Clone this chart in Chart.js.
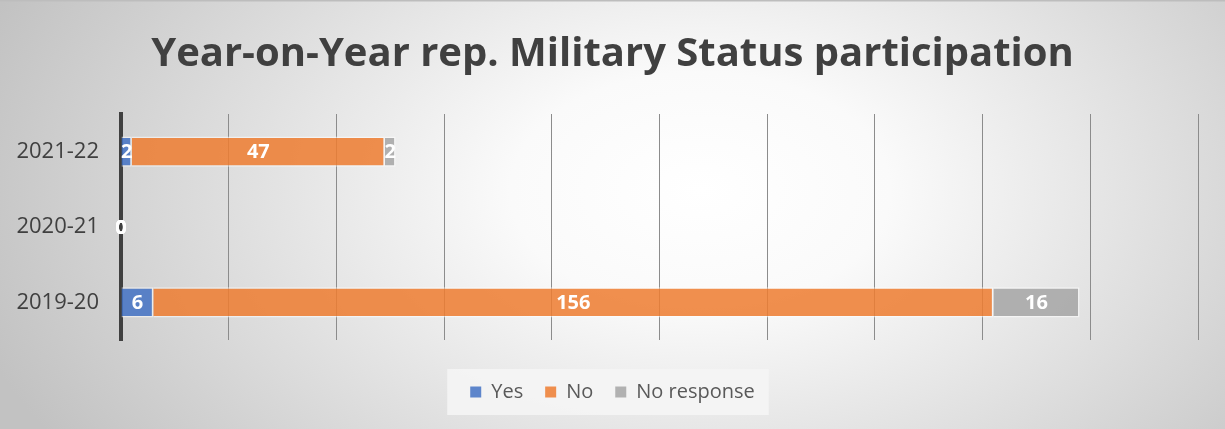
<!DOCTYPE html>
<html>
<head>
<meta charset="utf-8">
<script src="https://cdn.jsdelivr.net/npm/chart.js@4.4.0/dist/chart.umd.min.js"></script>
<style>
  html, body { margin: 0; padding: 0; background: #fff; }
  #wrap { width: 1225px; height: 429px; }
</style>
</head>
<body>
<div id="wrap"><canvas id="myChart" width="1225" height="429"></canvas></div>
<script>
// Datos
const categorias = ['2021-22', '2020-21', '2019-20'];
const si = [2, 0, 6];
const no = [47, 0, 156];
const sinRespuesta = [2, 0, 16];
const titulo = 'Year-on-Year rep. Military Status participation';

// Fondo con degradado + caja de la leyenda
const fondo = {
    id: 'fondo',
    beforeDraw(chart) {
        const ctx = chart.ctx;
        const w = chart.width, h = chart.height;
        ctx.save();
        ctx.translate(700, 190);
        ctx.scale(1, 0.62);
        const g = ctx.createRadialGradient(0, 0, 0, 0, 0, 760);
        g.addColorStop(0, '#ffffff');
        g.addColorStop(0.25, '#fafafa');
        g.addColorStop(1, '#c2c2c2');
        ctx.fillStyle = g;
        ctx.fillRect(-700, -190 / 0.62, w, h / 0.62 + 10);
        ctx.restore();

        // borde superior
        ctx.save();
        ctx.fillStyle = '#bdbdbd';
        ctx.fillRect(0, 0, w, 1.5);
        ctx.restore();

        // caja de la leyenda
        const cajas = chart.legend && chart.legend.legendHitBoxes;
        if (!cajas || !cajas.length) return;
        let izq = Infinity, der = -Infinity, arriba = Infinity, abajo = -Infinity;
        cajas.forEach(c => {
            izq = Math.min(izq, c.left);
            der = Math.max(der, c.left + c.width);
            arriba = Math.min(arriba, c.top);
            abajo = Math.max(abajo, c.top + c.height);
        });
        ctx.save();
        ctx.fillStyle = 'rgba(244,244,244,0.92)';
        ctx.fillRect(izq - 23, arriba - 13, der - izq + 37, abajo - arriba + 26);
        ctx.restore();
    }
};

// Etiquetas de datos dentro de las barras
const etiquetas = {
    id: 'etiquetas',
    afterDatasetsDraw(chart) {
        const ctx = chart.ctx;
        ctx.save();
        ctx.font = 'bold 20px "Open Sans"';
        ctx.fillStyle = '#ffffff';
        ctx.textAlign = 'center';
        ctx.textBaseline = 'middle';
        chart.data.datasets.forEach((ds, i) => {
            const meta = chart.getDatasetMeta(i);
            meta.data.forEach((el, j) => {
                const v = ds.data[j];
                const x = (el.x + el.base) / 2;
                ctx.fillText(String(v), x, el.y + 1);
            });
        });
        ctx.restore();
    }
};

const ctx = document.getElementById('myChart').getContext('2d');
new Chart(ctx, {
    type: 'bar',
    data: {
        labels: categorias,
        datasets: [
            {
                label: 'Yes',
                data: si,
                backgroundColor: 'rgba(68,114,196,0.86)',
                borderColor: 'rgba(255,255,255,0.55)',
                borderWidth: 1.5
            },
            {
                label: 'No',
                data: no,
                backgroundColor: 'rgba(237,125,49,0.86)',
                borderColor: 'rgba(255,255,255,0.55)',
                borderWidth: 1.5
            },
            {
                label: 'No response',
                data: sinRespuesta,
                backgroundColor: 'rgba(165,165,165,0.86)',
                borderColor: 'rgba(255,255,255,0.55)',
                borderWidth: 1.5
            }
        ]
    },
    options: {
        indexAxis: 'y',
        responsive: false,
        animation: false,
        devicePixelRatio: 1,
        layout: { padding: { left: 0, right: 0, top: 0, bottom: 17 } },
        datasets: { bar: { categoryPercentage: 1, barPercentage: 0.4 } },
        scales: {
            x: {
                stacked: true,
                min: 0,
                max: 200,
                afterFit(scale) { scale.height = 20; },
                ticks: { display: false, stepSize: 20 },
                grid: { color: '#8c8c8c', lineWidth: 1, drawTicks: false },
                border: { display: false }
            },
            y: {
                stacked: true,
                afterFit(scale) { scale.width = 121; },
                ticks: {
                    color: '#404040',
                    font: { family: 'Open Sans', size: 22 },
                    padding: 22
                },
                grid: { display: false, drawTicks: false },
                border: { display: true, color: '#404040', width: 4 }
            },
            margen: {
                type: 'category',
                position: 'right',
                afterFit(scale) { scale.width = 27; },
                ticks: { display: false },
                grid: { display: false, drawTicks: false },
                border: { display: false }
            }
        },
        plugins: {
            title: {
                display: true,
                text: titulo,
                color: '#404040',
                font: { family: 'Open Sans', size: 40, weight: 'bold' },
                padding: { top: 31, bottom: 35 }
            },
            legend: {
                position: 'bottom',
                labels: {
                    color: '#595959',
                    font: { family: 'Open Sans', size: 20 },
                    boxWidth: 11,
                    boxHeight: 11,
                    padding: 22,
                    generateLabels(chart) {
                        return chart.data.datasets.map((ds, i) => ({
                            text: ds.label,
                            fillStyle: ds.backgroundColor,
                            strokeStyle: ds.backgroundColor,
                            lineWidth: 0,
                            fontColor: '#595959',
                            datasetIndex: i,
                            hidden: false
                        }));
                    }
                }
            },
            tooltip: { enabled: false }
        }
    },
    plugins: [fondo, etiquetas]
});
</script>
</body>
</html>
